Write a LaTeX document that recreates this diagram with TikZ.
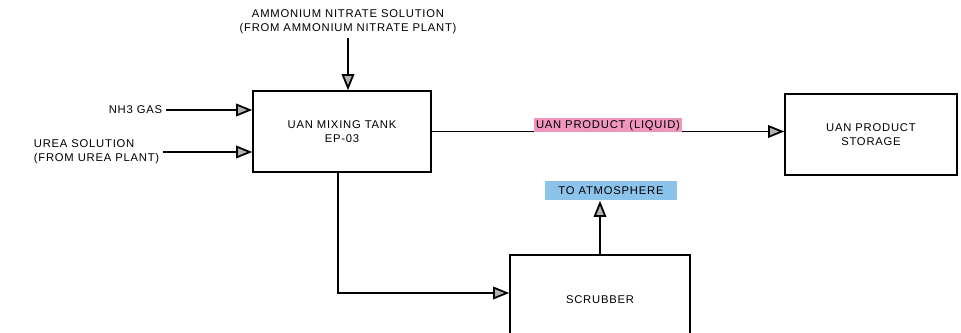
\documentclass[tikz,border=0pt]{standalone}
\usepackage{fontspec}
\setmainfont[LetterSpace=7]{Liberation Sans}
\usetikzlibrary{
  arrows.meta,
  positioning
}
\definecolor{hlpink}{RGB}{240,150,190}
\definecolor{hlblue}{RGB}{140,195,235}

\tikzset{
  unit/.style={draw, line width=0.9pt, minimum width=3.56cm, minimum height=1.62cm,
    align=center, font=\fontsize{6.4}{8}\selectfont},
  flow/.style={line width=1pt, -{Triangle[length=3.2mm,width=2.5mm,fill=gray!60]}},
  tag/.style={font=\fontsize{6.4}{8}\selectfont, align=left, inner sep=2pt}
}

\begin{document}
\begin{tikzpicture}[x=0.02cm,y=-0.02cm]
    \useasboundingbox (0,0) rectangle (961,333);
    \clip (0,0) rectangle (961,333);

    % Process units
    \node[unit] (tank) at (342,131.5) {UAN MIXING TANK\\EP-03};
    \node[unit, minimum width=3.44cm] (storage) at (871,134.5) {UAN PRODUCT\\STORAGE};
    \node[unit, minimum width=3.6cm, minimum height=1.8cm] (scrubber) at (600,300) {SCRUBBER};

    % Feed streams
    \node[tag, anchor=east] (nh3) at (166,110) {NH3 GAS};
    \node[tag, anchor=west] (urea) at (30,152) {UREA SOLUTION\\(FROM UREA PLANT)};
    \node[tag, align=center] (an) at (348,22) {AMMONIUM NITRATE SOLUTION\\(FROM AMMONIUM NITRATE PLANT)};
    \node[tag, fill=hlblue, minimum width=2.64cm, minimum height=0.38cm] (atm) at (611,191) {TO ATMOSPHERE};

    % Flows
    \draw[flow] (nh3.east) -- (nh3.east -| tank.west);
    \draw[flow] (urea.east) -- (urea.east -| tank.west);
    \draw[flow] (an.south) -- (an.south |- tank.north);
    \draw[flow] (tank.east) -- (tank.east -| storage.west)
        node[tag, midway, yshift=0.12cm, fill=hlpink, inner sep=1pt] (prod) {UAN PRODUCT (LIQUID)};
    \draw[flow] ([xshift=-0.08cm]tank.south) |- ([yshift=0.14cm]scrubber.west);
    \draw[flow] (scrubber.north) -- (scrubber.north |- atm.south);
\end{tikzpicture}
\end{document}
